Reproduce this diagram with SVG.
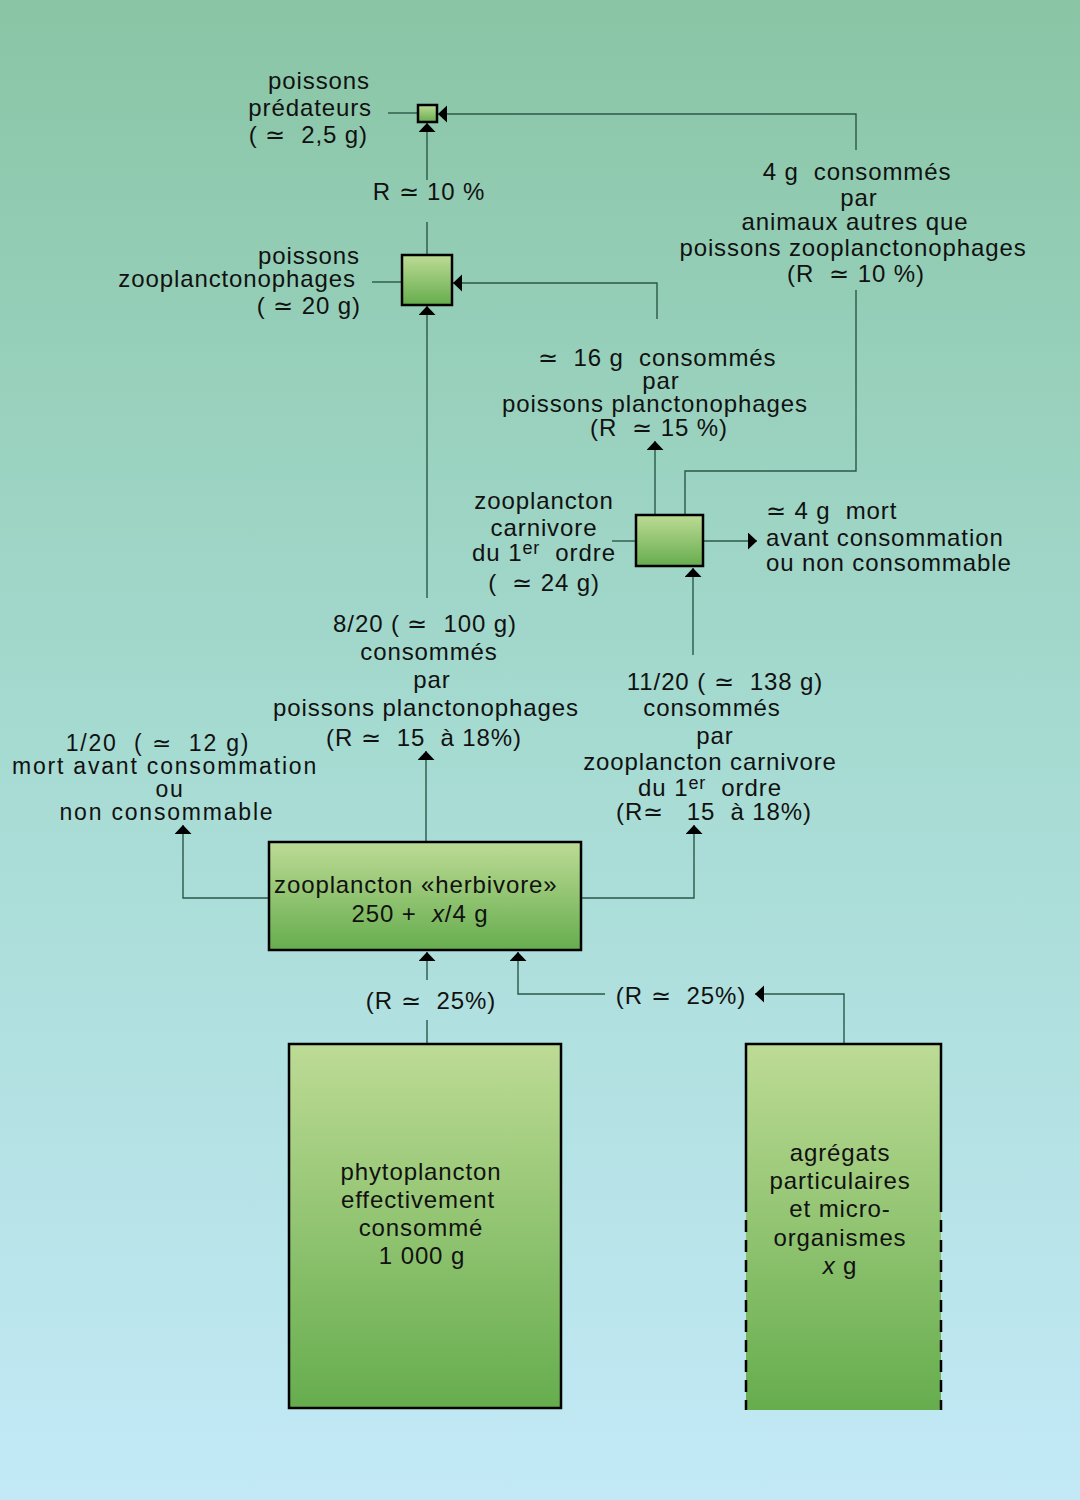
<svg xmlns="http://www.w3.org/2000/svg" width="1080" height="1500" viewBox="0 0 1080 1500">
<defs>
<linearGradient id="bg" x1="0" y1="0" x2="0" y2="1">
<stop offset="0" stop-color="#89c5a5"/>
<stop offset="0.5" stop-color="#a6dbd2"/>
<stop offset="1" stop-color="#c3e9f7"/>
</linearGradient>
<linearGradient id="box" x1="0" y1="0" x2="0" y2="1">
<stop offset="0" stop-color="#bddb95"/>
<stop offset="1" stop-color="#66ad4e"/>
</linearGradient>
<marker id="ah" markerUnits="userSpaceOnUse" markerWidth="20" markerHeight="20" refX="9" refY="8.5" orient="auto">
<path d="M0,0 L9,8.5 L0,17 z" fill="#000"/>
</marker>
<style>
text{font-family:"Liberation Sans",Arial,sans-serif;font-size:24px;letter-spacing:0.9px;fill:#111;white-space:pre}
.m{text-anchor:middle}
.e{text-anchor:end}
.c{fill:none;stroke:#2a5848;stroke-width:1.4}
.b{fill:url(#box);stroke:#000;stroke-width:2.5}
.sup{font-size:18px}
.s{font-size:23px;letter-spacing:1.8px}
</style>
</defs>
<rect width="1080" height="1500" fill="url(#bg)"/>

<g id="connectors">
<path class="c" d="M388,113 H418"/>
<path class="c" d="M372,282 H402"/>
<path class="c" d="M612,541 H636"/>
<path class="c" d="M856,150 V114 H438" stroke-width="2" marker-end="url(#ah)"/>
<path class="c" d="M856,290 V471 H685 V515"/>
<path class="c" d="M427,255 V222"/>
<path class="c" d="M427,180 V123" marker-end="url(#ah)"/>
<path class="c" d="M657,319 V283 H453" marker-end="url(#ah)"/>
<path class="c" d="M655,515 V441" marker-end="url(#ah)"/>
<path class="c" d="M703,541 H757" marker-end="url(#ah)"/>
<path class="c" d="M427,598 V306" marker-end="url(#ah)"/>
<path class="c" d="M426,842 V751" marker-end="url(#ah)"/>
<path class="c" d="M269,898 H183 V825" marker-end="url(#ah)"/>
<path class="c" d="M582,898 H694 V825" marker-end="url(#ah)"/>
<path class="c" d="M693,655 V568" marker-end="url(#ah)"/>
<path class="c" d="M427,1044 V1020"/>
<path class="c" d="M427,980 V952" marker-end="url(#ah)"/>
<path class="c" d="M844,1044 V994 H755" marker-end="url(#ah)"/>
<path class="c" d="M605,994 H518 V952" marker-end="url(#ah)"/>
</g>

<g id="n-predateurs">
<rect class="b" x="418" y="105" width="19" height="17" stroke-width="2"/>
<text class="e" x="370" y="89">poissons</text>
<text class="e" x="372" y="116">prédateurs</text>
<text class="e" x="368" y="143">( ≃  2,5 g)</text>
</g>
<g id="l-r10">
<text class="m" x="429" y="200">R ≃ 10 %</text>
</g>

<g id="n-zooplanctonophages">
<rect class="b" x="402" y="255" width="50" height="50"/>
<text class="e" x="360" y="264">poissons</text>
<text class="e" x="356" y="287">zooplanctonophages</text>
<text class="e" x="361" y="314">( ≃ 20 g)</text>
</g>

<g id="l-4g">
<text class="m" x="857" y="180">4 g  consommés</text>
<text class="m" x="859" y="206">par</text>
<text class="m" x="855" y="230">animaux autres que</text>
<text class="m" x="853" y="256">poissons zooplanctonophages</text>
<text class="m" x="856" y="282">(R  ≃ 10 %)</text>
</g>

<g id="l-16g">
<text class="m" x="657" y="366">≃  16 g  consommés</text>
<text class="m" x="661" y="389">par</text>
<text class="m" x="655" y="412">poissons planctonophages</text>
<text class="m" x="659" y="436">(R  ≃ 15 %)</text>
</g>

<g id="n-carnivore">
<rect class="b" x="636" y="515" width="67" height="51"/>
<text class="m" x="544" y="509">zooplancton</text>
<text class="m" x="544" y="536">carnivore</text>
<text class="m" x="544" y="561">du 1<tspan class="sup" dy="-7">er</tspan><tspan dy="7">  ordre</tspan></text>
<text class="m" x="544" y="591">(  ≃ 24 g)</text>
</g>

<g id="l-4gmort">
<text x="766" y="519">≃ 4 g  mort</text>
<text x="766" y="546">avant consommation</text>
<text x="766" y="571">ou non consommable</text>
</g>

<g id="l-8-20">
<text class="m" x="425" y="632">8/20 ( ≃  100 g)</text>
<text class="m" x="429" y="660">consommés</text>
<text class="m" x="432" y="688">par</text>
<text class="m" x="426" y="716">poissons planctonophages</text>
<text class="m" x="424" y="746">(R ≃  15  à 18%)</text>
</g>

<g id="l-1-20">
<text class="m s" x="158" y="751">1/20  ( ≃  12 g)</text>
<text class="m s" x="165" y="774">mort avant consommation</text>
<text class="m s" x="170" y="797">ou</text>
<text class="m s" x="167" y="820">non consommable</text>
</g>

<g id="l-11-20">
<text class="m" x="725" y="690">11/20 ( ≃  138 g)</text>
<text class="m" x="712" y="716">consommés</text>
<text class="m" x="715" y="744">par</text>
<text class="m" x="710" y="770">zooplancton carnivore</text>
<text class="m" x="710" y="796">du 1<tspan class="sup" dy="-7">er</tspan><tspan dy="7">  ordre</tspan></text>
<text class="m" x="714" y="820">(R≃   15  à 18%)</text>
</g>

<g id="n-herbivore">
<rect class="b" x="269" y="842" width="312" height="108"/>
<text x="274" y="893">zooplancton «herbivore»</text>
<text class="m" x="420" y="922">250 +  <tspan font-style="italic">x</tspan>/4 g</text>
</g>

<g id="l-r25a">
<text class="m" x="431" y="1009">(R ≃  25%)</text>
</g>
<g id="l-r25b">
<text class="m" x="681" y="1004">(R ≃  25%)</text>
</g>

<g id="n-phyto">
<rect class="b" x="289" y="1044" width="272" height="364"/>
<text class="m" x="421" y="1180">phytoplancton</text>
<text class="m" x="418" y="1208">effectivement</text>
<text class="m" x="421" y="1236">consommé</text>
<text class="m" x="422" y="1264">1 000 g</text>
</g>

<g id="n-agregats">
<rect x="746" y="1044" width="195" height="366" fill="url(#box)"/>
<path d="M746,1200 V1044 H941 V1200" fill="none" stroke="#000" stroke-width="2.5"/>
<path d="M746,1200 V1410 M941,1200 V1410" fill="none" stroke="#000" stroke-width="2.5" stroke-dasharray="12,8"/>
<text class="m" x="840" y="1161">agrégats</text>
<text class="m" x="840" y="1189">particulaires</text>
<text class="m" x="840" y="1217">et micro-</text>
<text class="m" x="840" y="1246">organismes</text>
<text class="m" x="840" y="1274"><tspan font-style="italic">x</tspan> g</text>
</g>
</svg>
